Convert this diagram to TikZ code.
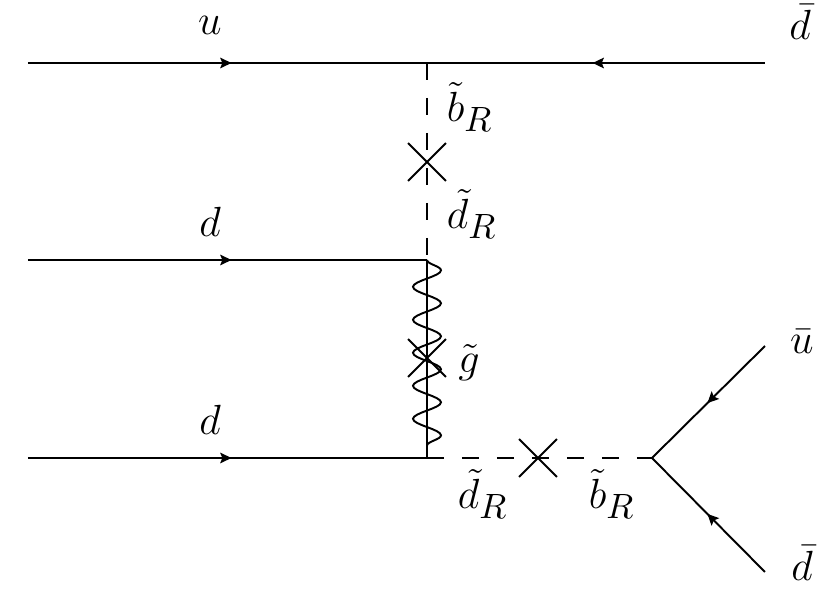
\documentclass[tikz,border=0pt]{standalone}
\usepackage{tikz}
\usetikzlibrary{arrows.meta,decorations.markings,decorations.pathmorphing,shapes.misc}
\tikzset{
	fermion/.style={line width=0.55pt, postaction={decorate}, decoration={markings, mark=at position 0.51 with {\arrow{Stealth[length=3.2pt,width=3pt,inset=0.6pt]}}}},
	scalar/.style={line width=0.55pt, dash pattern=on 0.175cm off 0.175cm},
	gluino/.style={line width=0.55pt, postaction={draw, decorate, decoration={snake, segment length=0.33cm, amplitude=0.14cm}}},
	insertion/.style={cross out, draw, line width=0.55pt, minimum size=0.36cm, inner sep=0pt},
	lbl/.style={inner sep=0pt, font=\large}
}
\def\subR{_{\mbox{\normalsize$R$}}}

\begin{document}
\begin{tikzpicture}
			%%%%% START %%%%%
			\useasboundingbox (0, 0) rectangle (8.3, 6);
			
			\coordinate (uin) at (0.28, 5.37);
			\coordinate (vtop) at (4.27, 5.37);
			\coordinate (dbarin) at (7.65, 5.37);
			\coordinate (din1) at (0.28, 3.40);
			\coordinate (vmid) at (4.27, 3.40);
			\coordinate (din2) at (0.28, 1.42);
			\coordinate (vbot) at (4.27, 1.42);
			\coordinate (vout) at (6.52, 1.42);
			\coordinate (ubarout) at (7.65, 2.54);
			\coordinate (dbarout) at (7.65, 0.28);
			
			\draw[fermion] (uin) -- (vtop);
			\draw[fermion] (dbarin) -- (vtop);
			\draw[scalar] (vtop) -- (vmid);
			\node[insertion] (xtop) at (4.27, 4.38) {};
			
			\draw[fermion] (din1) -- (vmid);
			\draw[gluino] (vmid) -- (vbot);
			\node[insertion] (xglu) at (4.27, 2.42) {};
			
			\draw[fermion] (din2) -- (vbot);
			\draw[scalar] (vbot) -- (vout);
			\node[insertion] (xbot) at (5.38, 1.42) {};
			
			\draw[fermion] (ubarout) -- (vout);
			\draw[fermion] (dbarout) -- (vout);
			
			\node[lbl] (lu) at (2.10, 5.75) {$u$};
			\node[lbl] (ldbartop) at (8.00, 5.78) {$\bar d$};
			\node[lbl] (lbtop) at (4.70, 4.93) {$\tilde b\subR$};
			\node[lbl] (ldtop) at (4.72, 3.86) {$\tilde d\subR$};
			\node[lbl] (ldmid) at (2.10, 3.78) {$d$};
			\node[lbl] (lg) at (4.69, 2.37) {$\tilde g$};
			\node[lbl] (ldbot) at (2.10, 1.80) {$d$};
			\node[lbl] (ldr) at (4.83, 1.06) {$\tilde d\subR$};
			\node[lbl] (lbr) at (6.12, 1.06) {$\tilde b\subR$};
			\node[lbl] (lubar) at (8.02, 2.58) {$\bar u$};
			\node[lbl] (ldbarbot) at (8.02, 0.37) {$\bar d$};
			
			%%%%% END %%%%%
\end{tikzpicture}
\end{document}
